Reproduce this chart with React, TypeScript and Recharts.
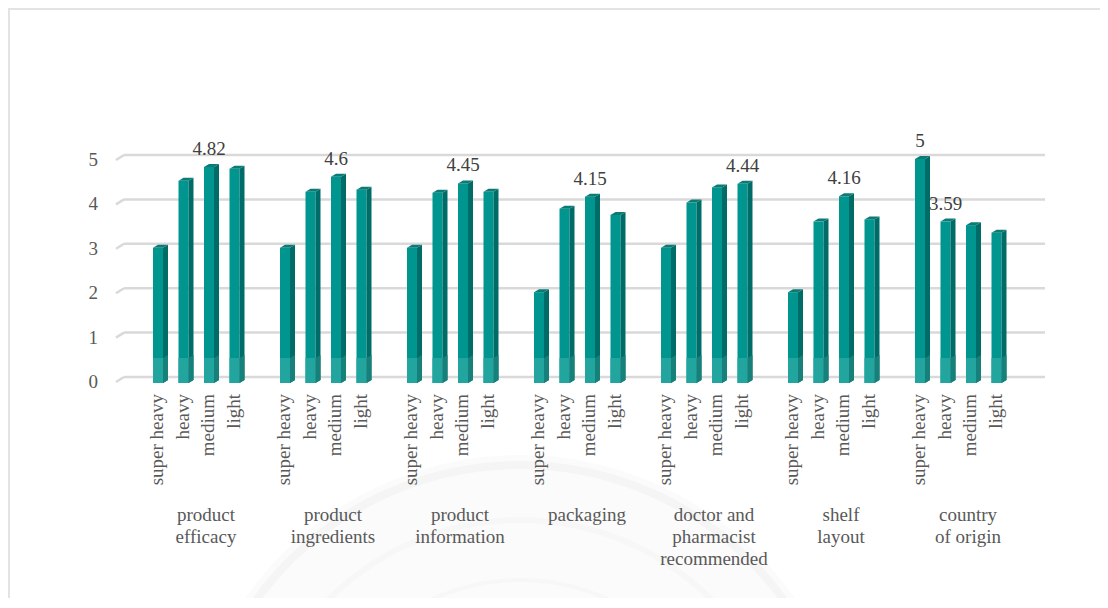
import { BarChart, Bar, XAxis, YAxis, CartesianGrid, LabelList } from 'recharts'

// category labels, one entry per printed line
const CATEGORY_LINES = [
  ['product', 'efficacy'],
  ['product', 'ingredients'],
  ['product', 'information'],
  ['packaging'],
  ['doctor and', 'pharmacist', 'recommended'],
  ['shelf', 'layout'],
  ['country', 'of origin'],
]
const USER_GROUPS = ['super heavy', 'heavy', 'medium', 'light']

const SUPER_HEAVY = [3, 3, 3, 2, 3, 2, 5]
const HEAVY = [4.51, 4.26, 4.24, 3.88, 4.02, 3.59, 3.59]
const MEDIUM = [4.82, 4.6, 4.45, 4.15, 4.36, 4.16, 3.51]
const LIGHT = [4.78, 4.31, 4.26, 3.74, 4.44, 3.64, 3.34]

// indexes of the bars that carry a value label
const LABELLED_SUPER_HEAVY = [6]
const LABELLED_HEAVY = [6]
const LABELLED_MEDIUM = [0, 1, 2, 3, 5]
const LABELLED_LIGHT = [4]

const Y_TICKS = [0, 1, 2, 3, 4, 5]

const SERIES = [
  { key: 'superHeavy', values: SUPER_HEAVY, labelled: LABELLED_SUPER_HEAVY },
  { key: 'heavy', values: HEAVY, labelled: LABELLED_HEAVY },
  { key: 'medium', values: MEDIUM, labelled: LABELLED_MEDIUM },
  { key: 'light', values: LIGHT, labelled: LABELLED_LIGHT },
]

const data = CATEGORY_LINES.map((lines, i) => {
  const row: Record<string, string | number> = { name: lines.join(' ') }
  SERIES.forEach((s) => { row[s.key] = s.values[i] })
  return row
})

const FONT = '"Liberation Serif", "Times New Roman", serif'
const TEXT = '#595959'
const GRID = '#d9d9d9'

const FRONT = '#00968f'
const SIDE = '#006c68'
const TOP = '#0b7b76'
const FLOOR_FRONT = '#22a59f'
const FLOOR_SIDE = '#16807b'

const BAR_SIZE = 15
const BAR_GAP = 10.5
const DEPTH_X = 5
const DEPTH_Y = 3

// 3d column: front face, right side, top cap and the lighter floor band
function Bar3D(props: any) {
  const { x, y, width, height } = props
  if (!height || height <= 0) return null
  const fw = width - DEPTH_X
  const top = y + 4
  const base = y + height
  const bottom = base + 6
  const floorTop = base - 19
  const sx = x + fw
  return (
    <g>
      <rect x={x} y={top} width={fw} height={bottom - top} fill={FRONT} />
      <polygon
        points={`${sx},${top} ${sx + DEPTH_X},${top - DEPTH_Y} ${sx + DEPTH_X},${bottom - DEPTH_Y} ${sx},${bottom}`}
        fill={SIDE}
      />
      <polygon
        points={`${x},${top} ${x + DEPTH_X},${top - DEPTH_Y} ${sx + DEPTH_X},${top - DEPTH_Y} ${sx},${top}`}
        fill={TOP}
      />
      <rect x={x} y={floorTop} width={fw} height={bottom - floorTop} fill={FLOOR_FRONT} />
      <polygon
        points={`${sx},${floorTop} ${sx + DEPTH_X},${floorTop - DEPTH_Y} ${sx + DEPTH_X},${bottom - DEPTH_Y} ${sx},${bottom}`}
        fill={FLOOR_SIDE}
      />
    </g>
  )
}

function GridLine(props: any) {
  const { x1, x2, y1 } = props
  return (
    <g key={props.key}>
      <line x1={x1 - 8} y1={y1 + 5} x2={x1} y2={y1} stroke={GRID} strokeWidth={2.5} />
      <line x1={x1} y1={y1} x2={x2} y2={y1} stroke={GRID} strokeWidth={2.5} />
    </g>
  )
}

function YTick(props: any) {
  const { y, payload } = props
  return (
    <text x={88} y={y + 11} textAnchor="end" fill={TEXT} fontSize={19} fontFamily={FONT}>
      {payload.value}
    </text>
  )
}

function CategoryTick(props: any) {
  const { x, payload } = props
  const lines = CATEGORY_LINES[payload.index] || []
  return (
    <g>
      {USER_GROUPS.map((g, i) => {
        const cx = x + (i - 1.5) * (BAR_SIZE + BAR_GAP) - DEPTH_X / 2 - 1
        return (
          <text
            key={g}
            x={cx}
            y={384}
            transform={`rotate(-90, ${cx}, 384)`}
            textAnchor="end"
            dominantBaseline="central"
            fill={TEXT}
            fontSize={19}
            fontFamily={FONT}
          >
            {g}
          </text>
        )
      })}
      <text x={x + 7.5} y={511} textAnchor="middle" fill={TEXT} fontSize={19} fontFamily={FONT}>
        {lines.map((l, i) => (
          <tspan key={i} x={x + 7.5} dy={i === 0 ? 0 : 22}>
            {l}
          </tspan>
        ))}
      </text>
    </g>
  )
}

function valueLabel(labelled: number[]) {
  return (props: any) => {
    const { x, y, index, value } = props
    if (!labelled.includes(index)) return null
    return (
      <text
        x={x + (BAR_SIZE - DEPTH_X) / 2}
        y={y - 8}
        textAnchor="middle"
        fill="#404040"
        fontSize={19}
        fontFamily={FONT}
      >
        {value}
      </text>
    )
  }
}

export default function App() {
  return (
    <div
      style={{
        position: 'relative',
        width: 1096,
        height: 588,
        borderTop: '2px solid #e3e3e3',
        borderLeft: '2px solid #e3e3e3',
        background: '#fff',
        overflow: 'hidden',
      }}
    >
      {/* faint seal in the background */}
      <svg width={1096} height={588} style={{ position: 'absolute', left: 0, top: 0 }}>
        <circle cx={510} cy={780} r={335} fill="#fbfbfb" />
        <circle cx={510} cy={780} r={325} fill="none" stroke="#f5f5f5" strokeWidth={8} />
        <circle cx={510} cy={780} r={270} fill="none" stroke="#f7f7f7" strokeWidth={6} />
        <circle cx={510} cy={780} r={210} fill="none" stroke="#f7f7f7" strokeWidth={4} />
      </svg>
      <div style={{ position: 'absolute', left: 0, top: 0 }}>
        <BarChart
          width={1096}
          height={588}
          data={data}
          margin={{ top: 145, right: 61, left: 54, bottom: 21 }}
          barGap={BAR_GAP}
          barSize={BAR_SIZE}
        >
          <CartesianGrid vertical={false} horizontal={GridLine} />
          <XAxis
            dataKey="name"
            axisLine={false}
            tickLine={false}
            interval={0}
            height={200}
            padding={{ left: 11, right: 21 }}
            tick={CategoryTick}
          />
          <YAxis
            width={60}
            domain={[0, 5]}
            ticks={Y_TICKS}
            axisLine={false}
            tickLine={false}
            tick={YTick}
          />
          {SERIES.map((s) => (
            <Bar key={s.key} dataKey={s.key} shape={Bar3D} isAnimationActive={false}>
              <LabelList dataKey={s.key} content={valueLabel(s.labelled)} />
            </Bar>
          ))}
        </BarChart>
      </div>
    </div>
  )
}
